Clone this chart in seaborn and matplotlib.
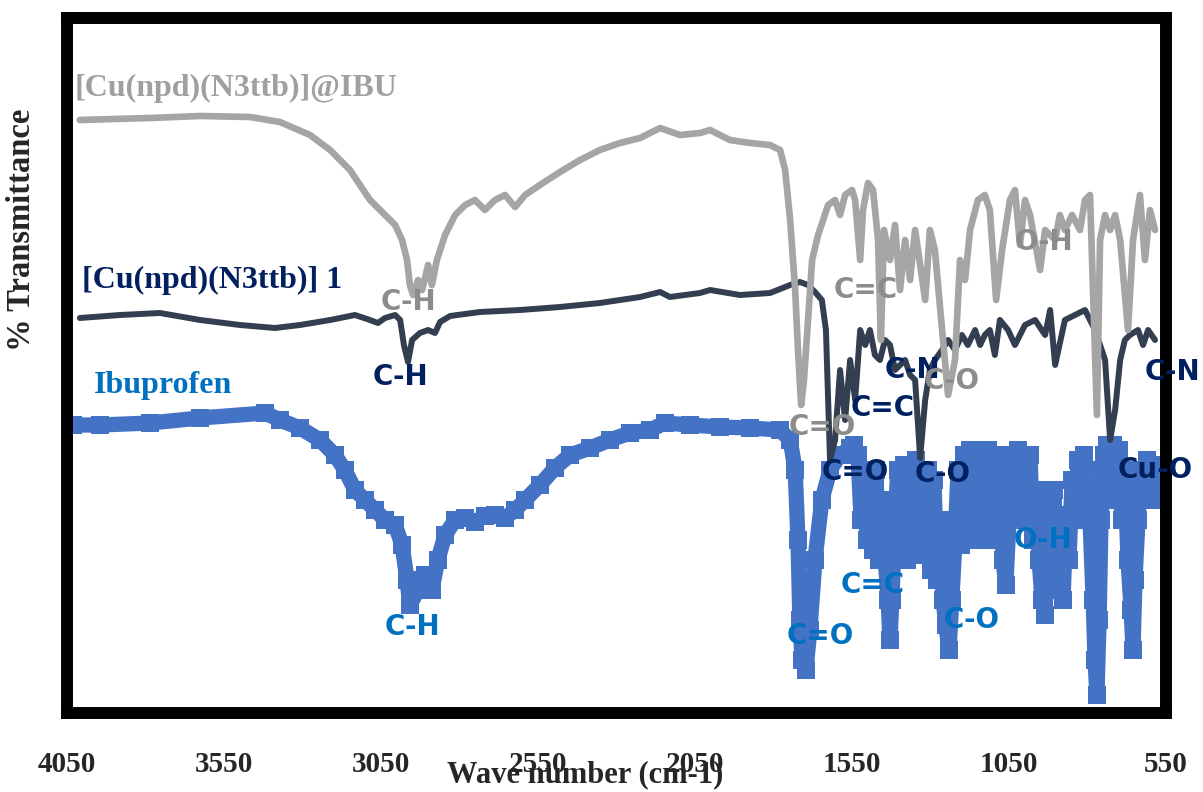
import numpy as np
import pandas as pd
import matplotlib
matplotlib.use("Agg")
import matplotlib.pyplot as plt
import seaborn as sns

# ---------------- data (wavenumber cm-1, transmittance arb. units) ----------------
ibu_complex_wn = [4009, 3786, 3626, 3467, 3372, 3276, 3212, 3149, 3117, 3085, 3037, 3005, 2983, 2967,
                  2958, 2948, 2932, 2919, 2900, 2888, 2872, 2846, 2814, 2782, 2751, 2719, 2687, 2655,
                  2623, 2591, 2544, 2480, 2416, 2353, 2289, 2225, 2161, 2098, 2034, 2002, 1939, 1875,
                  1811, 1779, 1763, 1747, 1731, 1722, 1712, 1703, 1690, 1677, 1658, 1642, 1626, 1604,
                  1588, 1572, 1550, 1540, 1524, 1515, 1499, 1483, 1467, 1458, 1448, 1429, 1413, 1397,
                  1381, 1365, 1349, 1333, 1317, 1302, 1286, 1263, 1244, 1222, 1206, 1190, 1174, 1149,
                  1127, 1111, 1091, 1072, 1047, 1031, 1015, 999, 983, 951, 935, 903, 888, 872, 849,
                  824, 808, 792, 770, 760, 744, 728, 712, 696, 671, 655, 633, 617, 601, 585]
ibu_complex_t = [118.6, 119, 119.4, 119.2, 118.2, 115.6, 112.6, 108.6, 105.6, 102.6, 99.6, 97.6, 94.6, 90.6,
                 85.6, 83.6, 86.6, 84.6, 89.6, 85.6, 90.6, 95.6, 99.6, 101.6, 102.6, 100.6, 102.6, 103.6,
                 101.2, 103.6, 105.6, 108.2, 110.6, 112.6, 114, 115, 117, 115.6, 116, 116.6, 114.6, 114,
                 113.6, 112.6, 108.6, 98.6, 84.6, 72.6, 61.6, 66.6, 78.6, 90.6, 95.6, 98.6, 101.6, 102.6,
                 99.6, 103.6, 104.6, 102.6, 90.6, 100.6, 106, 104.6, 94.6, 74.6, 96.6, 90.6, 97.6, 84.6,
                 94.6, 86.6, 96.6, 89.6, 82.6, 96.6, 92.6, 76.6, 63.6, 70.6, 90.6, 86.6, 96.6, 102.6,
                 103.6, 100.6, 82.6, 92.6, 102.6, 104.6, 93.6, 102.6, 99.6, 88.6, 96.6, 94.6, 99.6, 96.6, 99.6,
                 96.6, 102.6, 103.6, 59.6, 94.6, 99.6, 96.6, 99.6, 94.6, 76.6, 94.6, 103.6, 90.6, 100.6, 96.6]

cu1_wn = [4009, 3881, 3754, 3626, 3499, 3388, 3308, 3212, 3133, 3085, 3060, 3037, 3005, 2989, 2977,
          2964, 2951, 2926, 2900, 2878, 2862, 2830, 2735, 2607, 2480, 2353, 2225, 2161, 2130, 2034,
          2002, 1907, 1811, 1747, 1716, 1690, 1668, 1646, 1633, 1620, 1604, 1588, 1572, 1556, 1540,
          1524, 1508, 1493, 1477, 1461, 1445, 1429, 1413, 1381, 1365, 1349, 1333, 1317, 1302, 1286,
          1263, 1244, 1222, 1200, 1181, 1158, 1142, 1127, 1111, 1095, 1079, 1053, 1031, 999, 967,
          935, 919, 903, 872, 840, 808, 776, 744, 728, 712, 696, 681, 665, 639, 623, 607, 585]
cu1_t = [79, 79.6, 80, 78.6, 77.6, 77, 77.6, 78.6, 79.6, 78.6, 78, 79, 79.6, 78.6, 73.6,
         70.2, 74.6, 76, 76.6, 76, 78.2, 79.4, 80.2, 80.6, 81.2, 82, 83.2, 84.2, 83.2, 84,
         84.6, 83.6, 84, 85.6, 86.2, 85.6, 84.2, 82.6, 76.6, 50.6, 54.6, 68.6, 58.6, 70.6, 62.6,
         76.6, 73.6, 76.6, 71.6, 70.6, 74.6, 73.6, 68.6, 70.6, 67.6, 66.6, 51, 62.6, 68.6, 70.6,
         72.6, 74.6, 72.6, 75.6, 73.6, 76.6, 73.6, 75.6, 76.6, 71.6, 78.6, 76.6, 73.6, 77.6, 78.6,
         75.6, 80.6, 69.6, 78.6, 79.6, 80.6, 76.6, 70.6, 54.6, 60.6, 70.6, 74.6, 75.6, 76.6, 73.6, 76.6, 74.6]

ibuprofen_wn = [4031, 3945, 3786, 3626, 3419, 3372, 3308, 3244, 3197, 3165, 3133, 3101, 3069, 3037, 3005,
                2983, 2967, 2958, 2932, 2910, 2888, 2869, 2846, 2814, 2782, 2751, 2719, 2687, 2655, 2623,
                2591, 2544, 2496, 2448, 2384, 2321, 2257, 2193, 2146, 2066, 1970, 1875, 1779, 1747, 1731,
                1722, 1716, 1709, 1697, 1684, 1668, 1646, 1620, 1588,
                1556, 1544, 1531, 1521, 1512, 1502, 1493, 1483, 1474, 1464,
                1454, 1445, 1435, 1429, 1423, 1413, 1404, 1394, 1384, 1375,
                1365, 1356, 1346, 1337, 1327, 1318, 1308, 1298, 1289, 1279,
                1270, 1260, 1251, 1241, 1232, 1222, 1212, 1203, 1193, 1184,
                1174, 1165, 1155, 1146, 1136, 1126, 1117, 1107, 1098, 1088,
                1079, 1069, 1060, 1050, 1040, 1031, 1021, 1012, 1002, 993,
                983, 974, 964, 954, 945, 935, 926, 916, 907, 897,
                888, 878, 868, 859, 849, 840, 830, 821, 811, 802,
                792, 782, 776, 770, 763, 757, 747, 738, 728, 719,
                709, 700, 690, 681, 671, 661, 655, 649, 639, 630,
                620, 611, 601, 591, 579]
ibuprofen_t = [57.6, 57.6, 58, 59, 60, 58.6, 57, 54.6, 51.6, 48.6, 44.6, 42.6, 40.6, 38.6, 37.6,
               33.6, 26.6, 21.6, 24.6, 27.6, 24.6, 30.6, 35.6, 38.6, 39, 38.2, 39.4, 39.6, 39, 40.6,
               42.6, 45.6, 49, 51.6, 53, 54.6, 56, 56.6, 58, 57.6, 57.2, 57, 56.6, 54.6, 48.6,
               34.6, 18.6, 10.6, 8.6, 16.6, 30.6, 42.6, 48.6, 51.6,
               53, 53.6, 51.6, 38.6, 48.6, 34.6, 46.6, 32.6, 48.6, 30.6,
               42.6, 31.6, 22.6, 14.6, 22.6, 38.6, 48.6, 34.6, 49.6, 30.6,
               48.6, 34.6, 50.6, 31.6, 48.6, 33.6, 48.6, 28.6, 46.6, 26.6,
               38.6, 22.6, 17.6, 12.6, 22.6, 34.6, 48.6, 33.6, 51.6, 36.6,
               52.6, 38.6, 52.6, 34.6, 51.6, 40.6, 52.6, 34.6, 51.6, 38.6,
               50.6, 30.6, 25.6, 38.6, 51.6, 42.6, 52.6, 38.6, 50.6, 42.6,
               51.6, 34.6, 44.6, 30.6, 22.6, 19.6, 42.6, 30.6, 44.6, 24.6,
               38.6, 22.6, 39.6, 30.6, 46.6, 38.6, 50.6, 42.6, 51.6, 48.6,
               38.6, 22.6, 10.6, 3.6, 18.6, 38.6, 51.6, 53.6, 48.6, 53.6,
               42.6, 52.6, 38.6, 48.6, 30.6, 20.6, 12.6, 26.6, 38.6, 48.6,
               42.6, 50.6, 44.6, 49.6, 42.6]

series_names = ["[Cu(npd)(N3ttb)]@IBU", "[Cu(npd)(N3ttb)] 1", "Ibuprofen"]

# annotation labels: (text, wavenumber, y, colour key)
ann_text = ["C-H", "C-H", "C-H", "C=C", "C=O", "C-N", "C-O", "C=C", "C=O", "C-O",
            "O-H", "C-N", "Cu-O", "O-H", "C=C", "C-O", "C=O"]
ann_wn = [2964, 2989, 2951, 1505, 1646, 1359, 1232, 1451, 1540, 1260,
          939, 528, 585, 942, 1483, 1168, 1652]
ann_t = [82.2, 67.2, 17.2, 84.6, 57.2, 68.6, 66.4, 61.0, 48.2, 47.8,
         94.2, 68.2, 48.6, 34.6, 25.6, 18.6, 15.4]
ann_grp = ["g", "n", "b", "g", "g", "n", "g", "n", "n", "n",
           "g", "n", "n", "b", "b", "b", "b"]

xticks = [4050, 3550, 3050, 2550, 2050, 1550, 1050, 550]

# ---------------- styling ----------------
sns.set_style("white")
plt.rcParams["font.family"] = ["DejaVu Sans"]

line_gray = "#A5A5A5"
line_dark = "#333F50"
line_blue = "#4472C4"
txt_gray = "#8C8C8C"
txt_navy = "#002060"
txt_blue = "#0070C0"
ann_colors = {"g": txt_gray, "n": txt_navy, "b": txt_blue}

fig = plt.figure(figsize=(12.03, 7.92), dpi=100)
ax = fig.add_axes([67 / 1203, 1 - 713 / 792, (1166 - 67) / 1203, (713 - 18) / 792])

df_g = pd.DataFrame({"wn": ibu_complex_wn, "T": ibu_complex_t})
df_d = pd.DataFrame({"wn": cu1_wn, "T": cu1_t})
df_b = pd.DataFrame({"wn": ibuprofen_wn, "T": ibuprofen_t})

sns.lineplot(data=df_b, x="wn", y="T", ax=ax, color=line_blue, lw=11, estimator=None,
             marker="s", markersize=13, markeredgewidth=0, solid_joinstyle="round",
             solid_capstyle="butt", zorder=2)
sns.lineplot(data=df_d, x="wn", y="T", ax=ax, color=line_dark, lw=4.3, estimator=None,
             solid_joinstyle="round", solid_capstyle="round", zorder=3)
sns.lineplot(data=df_g, x="wn", y="T", ax=ax, color=line_gray, lw=4.8, estimator=None,
             solid_joinstyle="round", solid_capstyle="round", zorder=4)

ax.set_xlim(4050, 550)
ax.set_ylim(0, 139)
ax.set_xticks(xticks)
ax.set_xticklabels([str(t) for t in xticks])
ax.set_yticks([])
ax.set_xlabel("")
ax.set_ylabel("")
for s in ax.spines.values():
    s.set_visible(True)
    s.set_color("black")
    s.set_linewidth(8.6)
ax.tick_params(axis="x", direction="out", length=3, width=6, pad=24, bottom=True)
for lab in ax.get_xticklabels():
    lab.set_fontfamily("Liberation Serif")
    lab.set_fontweight("bold")
    lab.set_fontsize(21)

serif = dict(family="Liberation Serif", weight="bold")
ax.text(4025, 125, series_names[0], color="#A0A0A0", fontsize=23, va="center", ha="left", **serif, zorder=6)
ax.text(4002, 86.6, series_names[1], color=txt_navy, fontsize=23, va="center", ha="left", **serif, zorder=6)
ax.text(3964, 65.6, series_names[2], color=txt_blue, fontsize=23, va="center", ha="left", **serif, zorder=6)

for t, x, y, g in zip(ann_text, ann_wn, ann_t, ann_grp):
    ax.text(x, y, t, color=ann_colors[g], fontsize=20, fontweight="bold", ha="center", va="center",
            family="DejaVu Sans", clip_on=False, zorder=7)

fig.text(585 / 1203, 1 - 775 / 792, "Wave number (cm-1)", ha="center", va="center",
         fontsize=22, **serif)
fig.text(22 / 1203, 1 - 230 / 792, "% Transmittance", rotation=90, ha="center", va="center",
         fontsize=23.5, **serif)

fig.savefig("out.png", dpi=100, facecolor="white")
